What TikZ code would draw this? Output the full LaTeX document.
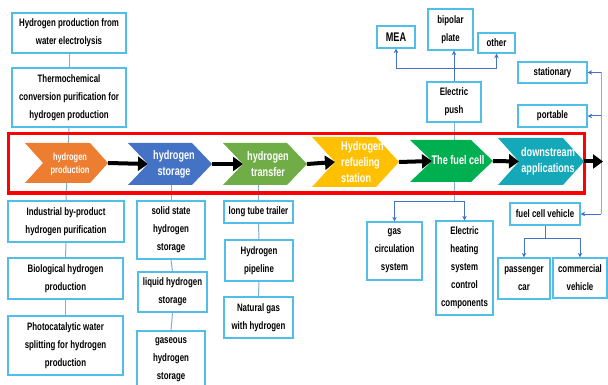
\documentclass[tikz,border=0pt]{standalone}
\usepackage{fontspec}
\setmainfont{Liberation Sans}[FakeStretch=0.73,UprightFont=* Bold]
\usetikzlibrary{arrows.meta}
\definecolor{bxc}{RGB}{80,190,232}
\definecolor{lnc}{RGB}{125,175,215}
\definecolor{arc}{RGB}{68,114,196}
\definecolor{cOr}{RGB}{237,125,49}
\definecolor{cBl}{RGB}{68,114,196}
\definecolor{cGr}{RGB}{112,173,71}
\definecolor{cYe}{RGB}{255,192,0}
\definecolor{cFc}{RGB}{0,176,80}
\definecolor{cTe}{RGB}{20,168,184}
\tikzset{
  bx/.style={draw=bxc,line width=1.3pt,fill=white,inner sep=0pt,align=center,
    font=\fontsize{10.8}{18}\selectfont},
  ln/.style={draw=lnc,line width=1pt},
  arr/.style={draw=arc,line width=1pt,-{Stealth[length=4.5pt,width=4.5pt]}},
  bigarr/.style={draw=black,line width=4pt,-{Triangle[length=10pt,width=14pt]}},
  ctext/.style={text=white,align=center,inner sep=0pt,font=\fontsize{12.5}{16}\selectfont},
}
\newcommand\bx[6]{\node[bx,minimum width={#4-#2},minimum height={#5-#3}] (#1) at ({(#2+#4)/2},{(#3+#5)/2}) {#6};}
\newcommand\chev[7]{%
  \fill[#7] (#2,#4) -- ({#3-#6},#4) -- (#3,{(#4+#5)/2}) -- ({#3-#6},#5) -- (#2,#5) -- ({#2+#6},{(#4+#5)/2}) -- cycle;
  \coordinate (#1-tip) at (#3,{(#4+#5)/2});
  \coordinate (#1-notch) at ({#2+#6},{(#4+#5)/2});
  \coordinate (#1-s) at ({(#2+#3)/2},#5);
}
\begin{document}
\begin{tikzpicture}[x=1pt,y=-1pt]
\useasboundingbox (0,0) rectangle (608,385);
\fill[white] (0,0) rectangle (608,385);
% left column
\bx{A1}{12}{13}{126}{53}{Hydrogen production from\\water electrolysis}
\bx{A2}{12}{68}{126}{127}{Thermochemical\\conversion purification for\\hydrogen production}
\bx{B1}{8}{201}{124}{242}{Industrial by-product\\hydrogen purification}
\bx{B2}{8}{258}{123}{299}{Biological hydrogen\\production}
\bx{B3}{8}{316}{123}{375}{Photocatalytic water\\splitting for hydrogen\\production}
% storage column
\bx{C1}{137}{201}{205}{259}{solid state\\hydrogen\\storage}
\bx{C2}{138}{272}{207}{312}{liquid hydrogen\\storage}
\begin{scope}
\clip (0,0) rectangle (608,385);
\bx{C3}{137}{331}{205}{389}{gaseous\\hydrogen\\storage}
\end{scope}
% transfer column
\bx{D1}{224}{201}{293}{223}{long tube trailer}
\bx{D2}{225}{240}{293}{281}{Hydrogen\\pipeline}
\bx{D3}{224}{297}{293}{338}{Natural gas\\with hydrogen}
% fuel cell
\bx{MEA}{377}{26}{415}{48}{\fontsize{12.5}{14}\selectfont MEA}
\bx{BP}{428}{9}{473}{50}{bipolar\\plate}
\bx{OT}{478}{33}{515}{53}{other}
\bx{EP}{427}{82}{481}{122}{Electric\\push}
\bx{GC}{367}{222}{422}{280}{gas\\circulation\\system}
\bx{EH}{436}{221}{493}{315}{Electric\\heating\\system\\control\\components}
% applications
\bx{ST}{518}{62}{587}{83}{stationary}
\bx{PO}{518}{105}{587}{127}{portable}
\bx{FCV}{510}{203}{580}{225}{fuel cell vehicle}
\bx{PC}{498}{258}{550}{299}{passenger\\car}
\bx{CV}{553}{258}{607}{298}{commercial\\vehicle}
% column connectors
\draw[ln] (A1.south) -- (A2.north);
\draw[ln] (A2.south) -- (B1.north);
\draw[ln] (B1.south) -- (B2.north);
\draw[ln] (B2.south) -- (B3.north);
\draw[ln] (C1.north) -- (C1.north |- 0,185);
\draw[ln] (C1.south) -- (C2.north);
\draw[ln] (C2.south) -- (C3.north);
\draw[ln] (D1.north) -- (D1.north |- 0,185);
\draw[ln] (D1.south) -- (D2.north);
\draw[ln] (D2.south) -- (D3.north);
% fuel cell connectors
\coordinate (epTop) at (EP.north |- 0,69);
\draw[arr] (EP.north) -- (EP.north |- BP.south);
\draw[arr] (epTop) -| (MEA.south);
\draw[arr] (epTop) -| (OT.south);
\coordinate (epBot) at (EP.south |- 0,201);
\draw[ln] (EP.south) -- (epBot);
\draw[arr] (epBot) -| (GC.north);
\draw[arr] (epBot) -| (EH.north);
% application connectors
\coordinate (rTop) at (601,72.5);
\coordinate (rBot) at (601,214);
\draw[draw=arc!60,line width=1pt] (rTop) -- (rBot);
\draw[arr] (rTop) -- (ST.east);
\draw[arr] (PO.east -| rTop) -- (PO.east);
\draw[arr] (rBot) -- (FCV.east);
\coordinate (fcvB) at (FCV.south |- 0,238);
\draw[arr] (FCV.south) -- (fcvB) -| (PC.north);
\draw[arr] (fcvB) -| (CV.north);
% red frame
\draw[red,line width=3pt] (8,134) rectangle (584,193);
% chevrons
\chev{chO}{25}{108}{143}{183}{18}{cOr}
\chev{chB}{128}{212}{143}{185}{20}{cBl}
\chev{chG}{223}{307}{143}{185}{20}{cGr}
\chev{chY}{312}{399}{137}{187}{23}{cYe}
\chev{chF}{410}{493}{140}{182}{22}{cFc}
\chev{chT}{498}{584}{138}{185}{21}{cTe}
\node[ctext,font=\fontsize{10.2}{13}\selectfont] (tO) at (70,164) {hydrogen\\production};
\node[ctext] (tB) at (174,164) {hydrogen\\storage};
\node[ctext] (tG) at (268,164) {hydrogen\\transfer};
\node[ctext,anchor=west,align=left] (tY) at (341,162) {Hydrogen\\refueling\\station};
\node[ctext] (tF) at (458,160) {The fuel cell};
\node[ctext] (tT) at (548,161) {downstream\\applications};
\coordinate (endA) at (603,161.5);
\draw[bigarr] (chO-tip) -- (chB-notch);
\draw[bigarr] (chB-tip) -- (chG-notch);
\draw[bigarr] (chG-tip) -- (chY-notch);
\draw[bigarr] (chY-tip) -- (chF-notch);
\draw[bigarr] (chF-tip) -- (chT-notch);
\draw[bigarr] (chT-tip) -- (endA);
\end{tikzpicture}
\end{document}
